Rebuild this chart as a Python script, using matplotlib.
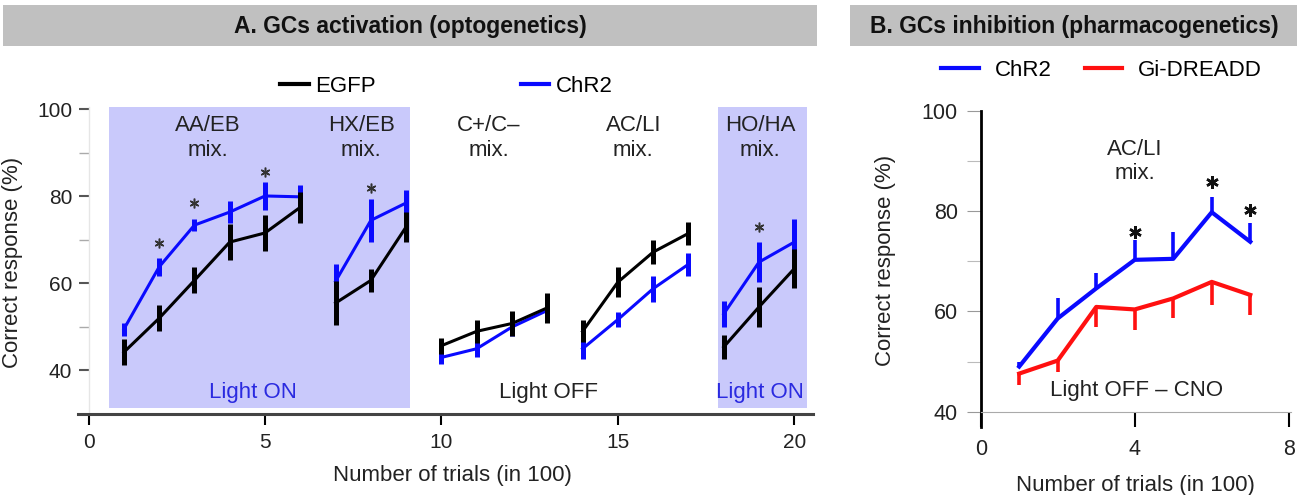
import matplotlib
matplotlib.use('Agg')
import matplotlib.pyplot as plt
from matplotlib.patches import Rectangle

plt.rcParams['font.family'] = ['Liberation Sans', 'DejaVu Sans']

# ---------------- data: panel A ----------------
a_blocks_x = [[1, 2, 3, 4, 5, 6], [7, 8, 9], [10, 11, 12, 13], [14, 15, 16, 17], [18, 19, 20]]
a_egfp_mean = [[44.2, 52.0, 60.7, 69.5, 71.6, 77.5], [55.5, 60.7, 73.0],
               [45.7, 49.0, 50.8, 54.4], [49.0, 60.3, 67.2, 71.5], [45.4, 54.6, 63.4]]
a_egfp_err = [[3.0, 3.0, 3.0, 4.2, 4.1, 3.5], [5.0, 2.6, 3.5],
              [1.8, 2.6, 2.8, 3.5], [2.5, 3.5, 2.7, 2.6], [2.7, 4.6, 4.4]]
a_chr2_mean = [[49.5, 63.8, 73.4, 76.4, 80.1, 79.9], [60.5, 74.5, 78.5],
               [43.0, 45.0, 50.0, 53.8], [45.0, 51.7, 58.8, 64.4], [53.0, 64.9, 69.5]]
a_chr2_err = [[1.5, 2.0, 1.3, 2.6, 3.2, 2.7], [4.0, 5.0, 3.0],
              [1.5, 2.0, 2.0, 2.0], [2.3, 1.8, 3.0, 2.7], [3.0, 4.6, 5.4]]
a_star_x = [2, 3, 5, 8, 19]
a_star_y = [69.3, 78.4, 85.6, 82.0, 73.0]
a_block_labels = ['AA/EB\nmix.', 'HX/EB\nmix.', 'C+/C–\nmix.', 'AC/LI\nmix.', 'HO/HA\nmix.']
a_block_label_x = [3.37, 7.73, 11.35, 15.44, 19.03]
a_light_labels = ['Light ON', 'Light OFF', 'Light ON']
a_light_x = [4.67, 13.03, 19.02]
a_light_colors = ['#2a2ae0', '#222222', '#2a2ae0']
light_on_spans = [(0.57, 9.12), (17.84, 20.37)]
a_xticks = [0, 5, 10, 15, 20]
a_xtick_colors = ['#cccccc', '#111111', '#111111', '#cccccc', '#333333']

# ---------------- data: panel B ----------------
b_x = [1, 2, 3, 4, 5, 6, 7]
b_chr2_mean = [49.0, 58.6, 64.6, 70.3, 70.5, 79.8, 73.9]
b_chr2_err = [1.0, 4.0, 3.0, 4.0, 5.4, 3.1, 3.7]
b_dreadd_mean = [47.6, 50.2, 60.9, 60.4, 62.6, 65.9, 63.3]
b_dreadd_err = [2.3, 2.2, 4.0, 4.1, 4.0, 4.7, 4.0]
b_star_x = [4, 6, 7]
b_star_y = [75.9, 85.9, 80.2]
b_xticks = [0, 4, 8]

yticks_major = [40, 60, 80, 100]
yticks_minor = [50, 70, 90]

BLUE = '#0a0aff'
RED = '#ff1010'
BLACK = '#000000'
SHADE = '#c9c9fb'

W, H = 1297, 495
fig = plt.figure(figsize=(W / 100, H / 100), dpi=100)


def fx(px):
    return px / W


def fy(py):
    return 1 - py / H


# ---------------- title bars ----------------
fig.patches.append(Rectangle((fx(3), fy(46)), fx(814), 41 / H, transform=fig.transFigure,
                             facecolor='#c0c0c0', edgecolor='none', zorder=0))
fig.patches.append(Rectangle((fx(850), fy(46)), fx(447), 41 / H, transform=fig.transFigure,
                             facecolor='#c0c0c0', edgecolor='none', zorder=0))
fig.text(fx(410), fy(27), 'A. GCs activation (optogenetics)', ha='center', va='center',
         fontsize=16.5, fontweight='bold', color='#111111')
fig.text(fx(1074.5), fy(27), 'B. GCs inhibition (pharmacogenetics)', ha='center', va='center',
         fontsize=16.5, fontweight='bold', color='#111111')

# ---------------- panel A ----------------
axA = fig.add_axes([fx(78), (H - 414) / H, 735 / W, 309 / H])
axA.set_xlim(-0.3, 20.53)
axA.set_ylim(30, 101)
for x0, x1 in light_on_spans:
    axA.axvspan(x0, x1, ymin=(31.3 - 30) / 71, ymax=(100.5 - 30) / 71,
                facecolor=SHADE, edgecolor='none', zorder=0)

chr2_handle = None
egfp_handle = None
for xs, m, e in zip(a_blocks_x, a_chr2_mean, a_chr2_err):
    c = axA.errorbar(xs, m, yerr=e, color=BLUE, lw=2.2, elinewidth=3.6, capsize=0, zorder=3)
    chr2_handle = chr2_handle or c[0]
for xs, m, e in zip(a_blocks_x, a_egfp_mean, a_egfp_err):
    c = axA.errorbar(xs, m, yerr=e, color=BLACK, lw=2.2, elinewidth=3.6, capsize=0, zorder=4)
    egfp_handle = egfp_handle or c[0]

axA.plot(a_star_x, a_star_y, ls='none', marker=(6, 2, 0), ms=7, mew=1.1,
         color='#333333', zorder=5)

for lab, x in zip(a_block_labels, a_block_label_x):
    axA.text(x, 93.5, lab, ha='center', va='center', fontsize=16, color='#222222',
             linespacing=1.25)
for lab, x, col in zip(a_light_labels, a_light_x, a_light_colors):
    axA.text(x, 35.0, lab, ha='center', va='center', fontsize=16, color=col)

for s in ['top', 'right']:
    axA.spines[s].set_visible(False)
axA.spines['left'].set_position(('data', 0))
axA.spines['left'].set_color('#e6e6e6')
axA.spines['left'].set_linewidth(1)
axA.spines['left'].set_bounds(30, 100.5)
axA.spines['bottom'].set_color('#444444')
axA.spines['bottom'].set_linewidth(2.2)

axA.set_xticks(a_xticks)
axA.set_xticklabels([str(t) for t in a_xticks])
axA.tick_params(axis='x', direction='out', length=8, width=1.5, pad=6,
                labelsize=15, labelcolor='#222222')
for t, col in zip(axA.xaxis.get_major_ticks(), a_xtick_colors):
    t.tick1line.set_color(col)
axA.set_yticks(yticks_major)
axA.set_yticks(yticks_minor, minor=True)
axA.tick_params(axis='y', which='major', direction='out', length=7.5, width=1.5,
                color='#555555', pad=4.3, labelsize=15, labelcolor='#222222')
axA.tick_params(axis='y', which='minor', direction='out', length=7.5, width=1,
                color='#aaaaaa')

legA = axA.legend([egfp_handle, chr2_handle], ['EGFP', 'ChR2'], ncol=2, frameon=False,
                  loc='center', bbox_to_anchor=(fx(446.5), fy(86.7)),
                  bbox_transform=fig.transFigure, fontsize=16, handlelength=1.3,
                  handletextpad=0.3, columnspacing=6.5, borderpad=0, borderaxespad=0)
for ln in legA.get_lines():
    ln.set_linewidth(3.0)

fig.text(fx(452), fy(475), 'Number of trials (in 100)', ha='center', va='center',
         fontsize=16, color='#222222')
fig.text(fx(13), fy(262), 'Correct response (%)', ha='center', va='center',
         rotation=90, fontsize=16, color='#222222')

# ---------------- panel B ----------------
axB = fig.add_axes([fx(980.7), (H - 426.7) / H, 310 / W, 315.7 / H])
axB.set_xlim(0, 8.05)
axB.set_ylim(37, 100)

zeros = [0] * len(b_x)
cr = axB.errorbar(b_x, b_dreadd_mean, yerr=[b_dreadd_err, zeros], color=RED, lw=3,
                  elinewidth=2.6, capsize=0, zorder=3)
cb = axB.errorbar(b_x, b_chr2_mean, yerr=[zeros, b_chr2_err], color=BLUE, lw=3,
                  elinewidth=2.6, capsize=0, zorder=4)
axB.plot(b_star_x, b_star_y, ls='none', marker=(6, 2, 0), ms=9, mew=1.8,
         color='#111111', zorder=5)

axB.text(4.0, 89.85, 'AC/LI\nmix.', ha='center', va='center', fontsize=16,
         color='#222222', linespacing=1.2)
axB.text(4.06, 44.3, 'Light OFF – CNO', ha='center', va='center', fontsize=16,
         color='#222222')

for s in ['top', 'right']:
    axB.spines[s].set_visible(False)
axB.spines['left'].set_color('#000000')
axB.spines['left'].set_linewidth(2)
axB.spines['bottom'].set_position(('data', 40))
axB.spines['bottom'].set_color('#aaaaaa')
axB.spines['bottom'].set_linewidth(0.8)

axB.set_xticks(b_xticks)
axB.set_xticklabels([str(t) for t in b_xticks])
axB.tick_params(axis='x', direction='out', length=10.8, width=1.5, color='#000000',
                pad=9, labelsize=15.5, labelcolor='#222222')
axB.set_yticks(yticks_major)
axB.set_yticks(yticks_minor, minor=True)
axB.tick_params(axis='y', which='major', direction='out', length=10, width=0.8,
                color='#999999', pad=6.5, labelsize=15.5, labelcolor='#222222')
axB.tick_params(axis='y', which='minor', direction='out', length=10, width=0.8,
                color='#bbbbbb')

legB = axB.legend([cb[0], cr[0]], ['ChR2', 'Gi-DREADD'], ncol=2, frameon=False,
                  loc='center', bbox_to_anchor=(fx(1101.5), fy(70)),
                  bbox_transform=fig.transFigure, fontsize=16, handlelength=1.7,
                  handletextpad=0.7, columnspacing=1.5, borderpad=0, borderaxespad=0)
for ln in legB.get_lines():
    ln.set_linewidth(3.0)

fig.text(fx(1135), fy(486), 'Number of trials (in 100)', ha='center', va='center',
         fontsize=16, color='#222222')
fig.text(fx(885), fy(260), 'Correct response (%)', ha='center', va='center',
         rotation=90, fontsize=16, color='#222222')

fig.savefig('out.png', dpi=100)
